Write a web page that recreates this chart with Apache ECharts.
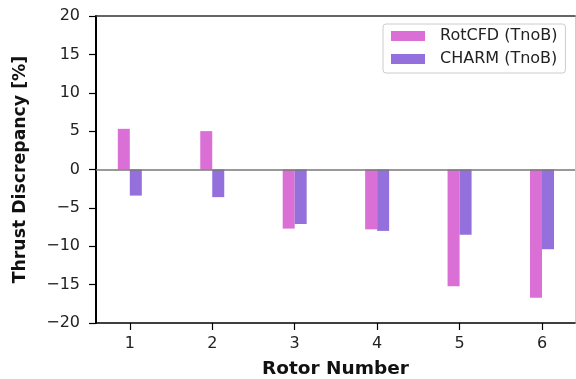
<!DOCTYPE html>
<html>
<head>
<meta charset="utf-8">
<script src="https://cdn.jsdelivr.net/npm/echarts@6/dist/echarts.min.js"></script>
<style>html,body{margin:0;padding:0;background:#fff;}#c{width:576px;height:379px;}</style>
</head>
<body>
<div id="c"></div>
<script>
const rotors = [1, 2, 3, 4, 5, 6];
const rotcfd = [5.3, 5.0, -7.7, -7.8, -15.2, -16.7];
const charm = [-3.4, -3.6, -7.1, -8.0, -8.5, -10.4];
const yTicks = [-20, -15, -10, -5, 0, 5, 10, 15, 20];
const seriesNames = ['RotCFD (TnoB)', 'CHARM (TnoB)'];

const FONT = 'DejaVu Sans';
const minus = v => (v < 0 ? '\u2212' + (-v) : String(v));

const chart = echarts.init(document.getElementById('c'), null, {renderer: 'canvas'});
chart.setOption({
  animation: false,
  backgroundColor: '#fff',
  grid: {left: 96, right: 1, top: 16, bottom: 56, containLabel: false, outerBoundsMode: 'none'},
  legend: {
    orient: 'vertical', left: 383, top: 24,
    padding: [4, 8, 6, 8], itemGap: 7,
    itemWidth: 34, itemHeight: 10,
    backgroundColor: '#fff', borderColor: '#cccccc', borderWidth: 1, borderRadius: 3,
    textStyle: {fontFamily: FONT, fontSize: 16, color: '#222', padding: [0, 0, 0, 10]},
    icon: 'rect',
    data: seriesNames
  },
  xAxis: [{
    type: 'value', min: 0.59, max: 6.4,
    name: 'Rotor Number', nameLocation: 'middle', nameGap: 37,
    nameTextStyle: {fontFamily: FONT, fontSize: 18.5, fontWeight: 'bold', color: '#111'},
    axisLine: {onZero: false, lineStyle: {color: '#000', width: 1.5}},
    axisTick: {show: true, length: 7, lineStyle: {color: '#000', width: 1.2}, customValues: rotors},
    axisLabel: {fontFamily: FONT, fontSize: 16, color: '#222', margin: 13, customValues: rotors,
      formatter: v => String(v)},
    splitLine: {show: false}
  }, {
    type: 'value', position: 'top', min: 0.59, max: 6.4,
    axisLine: {show: true, onZero: false, lineStyle: {color: '#333', width: 1.5}},
    axisTick: {show: false}, axisLabel: {show: false}, splitLine: {show: false}
  }],
  yAxis: [{
    type: 'value', min: -20, max: 20, interval: 5,
    name: 'Thrust Discrepancy [%]', nameLocation: 'middle', nameGap: 67, nameRotate: 90,
    nameTextStyle: {fontFamily: FONT, fontSize: 17.3, fontWeight: 'bold', color: '#111'},
    axisLine: {show: true, onZero: false, lineStyle: {color: '#000', width: 2}},
    axisTick: {show: true, length: 7, lineStyle: {color: '#000', width: 1.2}},
    axisLabel: {fontFamily: FONT, fontSize: 16, color: '#222', margin: 16, formatter: minus},
    splitLine: {show: false}
  }, {
    type: 'value', position: 'right', min: -20, max: 20,
    axisLine: {show: true, onZero: false, lineStyle: {color: '#cccccc', width: 1}},
    axisTick: {show: false}, axisLabel: {show: false}, splitLine: {show: false}
  }],
  series: [{
    name: seriesNames[0], type: 'bar', barWidth: 12, barGap: '0%',
    itemStyle: {color: '#DA70D6'},
    data: rotors.map((r, i) => [r, rotcfd[i]]),
    markLine: {
      silent: true, symbol: 'none', label: {show: false},
      lineStyle: {color: '#777', width: 1.5, type: 'solid'},
      data: [{yAxis: 0}]
    }
  }, {
    name: seriesNames[1], type: 'bar', barWidth: 12, barGap: '0%',
    itemStyle: {color: '#9370DB'},
    data: rotors.map((r, i) => [r, charm[i]])
  }]
});
</script>
</body>
</html>
